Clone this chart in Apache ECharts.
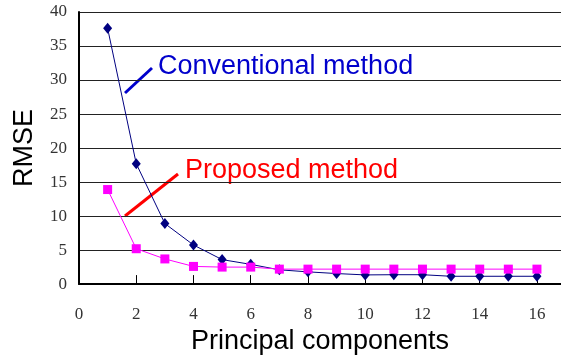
<!DOCTYPE html>
<html><head><meta charset="utf-8">
<script src="https://cdn.jsdelivr.net/npm/echarts@6/dist/echarts.min.js"></script>
<style>html,body{margin:0;padding:0;background:#fff}#c{width:561px;height:360px}</style>
</head><body><div id="c"></div>
<script>
const components = [1,2,3,4,5,6,7,8,9,10,11,12,13,14,15,16];
const conventional = [37.6,17.7,8.9,5.75,3.6,2.9,2.1,1.8,1.55,1.35,1.38,1.38,1.15,1.15,1.15,1.15];
const proposed = [13.9,5.2,3.7,2.6,2.5,2.5,2.2,2.2,2.2,2.2,2.2,2.2,2.2,2.2,2.2,2.2];
const yTicks = [0,5,10,15,20,25,30,35,40];
const xTicks = [0,2,4,6,8,10,12,14,16];

const chart = echarts.init(document.getElementById('c'), null, {renderer:'canvas'});
const serif = '"Liberation Serif","DejaVu Serif",serif';
const sans = '"Liberation Sans",Arial,sans-serif';
chart.setOption({
  animation:false,
  grid:{left:79, top:12, right:0, bottom:68, containLabel:false},
  xAxis:{type:'value', min:0, max:16.84, interval:2,
    name:'Principal components', nameLocation:'middle', nameGap:37,
    nameTextStyle:{fontFamily:sans, fontSize:27, color:'#000'},
    axisLine:{show:true, onZero:false, lineStyle:{color:'#000', width:2}},
    axisTick:{show:true, inside:true, length:9, lineStyle:{color:'#000', width:1}},
    axisLabel:{fontFamily:serif, fontSize:17, color:'#333', margin:22, showMaxLabel:false,
      formatter: v => xTicks.includes(v) ? String(v) : ''},
    splitLine:{show:false}},
  yAxis:{type:'value', min:0, max:40, interval:5,
    name:'RMSE', nameLocation:'middle', nameGap:41,
    nameTextStyle:{fontFamily:sans, fontSize:27, color:'#000'},
    axisLine:{show:true, lineStyle:{color:'#000', width:2}},
    axisTick:{show:false},
    axisLabel:{fontFamily:serif, fontSize:17, color:'#333', margin:12, padding:[3,0,0,0],
      formatter: v => yTicks.includes(v) ? String(v) : ''},
    splitLine:{show:true, lineStyle:{color:'#222', width:1}}},
  series:[
    {type:'line', data:components.map((c,i)=>[c,conventional[i]]),
      symbol:'diamond', symbolSize:[9,11], itemStyle:{color:'#000080'},
      lineStyle:{color:'#000080', width:1}, z:3},
    {type:'line', data:components.map((c,i)=>[c,proposed[i]]),
      symbol:'rect', symbolSize:9, itemStyle:{color:'#FF00FF'},
      lineStyle:{color:'#FF00FF', width:1}, z:4}
  ],
  graphic:[
    {type:'line', shape:{x1:125,y1:93,x2:152,y2:68}, style:{stroke:'#0000CC', lineWidth:3}},
    {type:'text', left:158, top:53, style:{text:'Conventional method', fill:'#0000CC', font:'27px "Liberation Sans",Arial,sans-serif'}},
    {type:'line', shape:{x1:125,y1:216,x2:178,y2:174}, style:{stroke:'#FF0000', lineWidth:3}},
    {type:'text', left:185, top:157, style:{text:'Proposed method', fill:'#FF0000', font:'27px "Liberation Sans",Arial,sans-serif'}}
  ]
});
</script></body></html>
